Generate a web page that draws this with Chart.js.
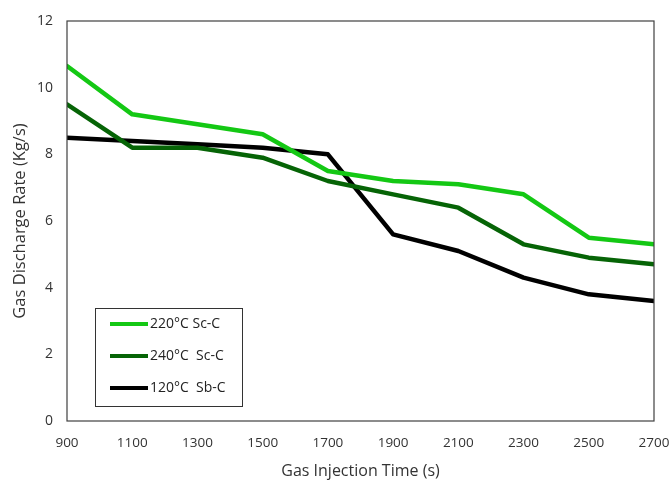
<!DOCTYPE html>
<html>
<head>
<meta charset="utf-8">
<script src="https://cdn.jsdelivr.net/npm/chart.js@4"></script>
<style>
  html, body { margin: 0; padding: 0; background: #fff; }
  #wrap { width: 672px; height: 481px; }
</style>
</head>
<body>
<div id="wrap"><canvas id="lineChart"></canvas></div>
<script>
// injection time (s)
const times = [900, 1100, 1300, 1500, 1700, 1900, 2100, 2300, 2500, 2700];
// gas discharge rate (Kg/s)
const sc220 = [10.65, 9.2, 8.9, 8.6, 7.5, 7.2, 7.1, 6.8, 5.5, 5.3];
const sc240 = [9.5, 8.2, 8.2, 7.9, 7.2, 6.8, 6.4, 5.3, 4.9, 4.7];
const sb120 = [8.5, 8.4, 8.3, 8.2, 8.0, 5.6, 5.1, 4.3, 3.8, 3.6];
const seriesNames = ["220°C Sc-C", "240°C  Sc-C", "120°C  Sb-C"];

const toPoints = (vals) => vals.map((v, i) => ({ x: times[i], y: v }));

// frame round the plot + legend box in the lower left
const framePlugin = {
  id: "frame",
  afterDraw(chart) {
    const ctx = chart.ctx;
    const a = chart.chartArea;
    ctx.save();
    ctx.strokeStyle = "#404040";
    ctx.lineWidth = 1.2;
    ctx.strokeRect(a.left, a.top, a.right - a.left, a.bottom - a.top);

    // legend
    const bx = 95, by = 308, bw = 147, bh = 98;
    ctx.lineWidth = 1;
    ctx.strokeStyle = "#333";
    ctx.fillStyle = "#fff";
    ctx.fillRect(bx, by, bw, bh);
    ctx.strokeRect(bx + 0.5, by + 0.5, bw, bh);
    ctx.font = "14px 'Open Sans', sans-serif";
    ctx.textBaseline = "middle";
    chart.data.datasets.forEach((ds, i) => {
      const y = by + 16 + i * 32;
      ctx.strokeStyle = ds.borderColor;
      ctx.lineWidth = 4;
      ctx.beginPath();
      ctx.moveTo(110, y);
      ctx.lineTo(148, y);
      ctx.stroke();
      ctx.fillStyle = "#222";
      ctx.fillText(ds.label, 150, y);
    });
    ctx.restore();
  },
};

const lineConfig = {
  type: "line",
  data: {
    datasets: [
      { label: seriesNames[0], data: toPoints(sc220), borderColor: "#14c814" },
      { label: seriesNames[1], data: toPoints(sc240), borderColor: "#066406" },
      { label: seriesNames[2], data: toPoints(sb120), borderColor: "#000000" },
    ],
  },
  options: {
    responsive: true,
    maintainAspectRatio: false,
    animation: false,
    layout: { padding: { left: 0, right: 18, top: 21, bottom: 0 } },
    elements: {
      line: { borderWidth: 4.5, tension: 0, borderJoinStyle: "round", borderCapStyle: "round" },
      point: { radius: 0 },
    },
    plugins: {
      legend: { display: false },
      tooltip: { enabled: false },
    },
    scales: {
      x: {
        type: "linear",
        min: 900,
        max: 2700,
        grid: { display: false, drawTicks: false },
        border: { display: false },
        ticks: {
          stepSize: 200,
          padding: 14,
          color: "#333",
          font: { family: "'Open Sans', sans-serif", size: 13.5 },
          callback: (v) => String(v),
        },
        title: {
          display: true,
          text: "Gas Injection Time (s)",
          color: "#333",
          padding: { top: 0, bottom: 0 },
          font: { family: "'Open Sans', sans-serif", size: 16 },
        },
        afterFit: (s) => {
          s.height = 60;
          s.paddingLeft = 0;
          s.paddingRight = 0;
        },
      },
      y: {
        min: 0,
        max: 12,
        grid: { display: false, drawTicks: false },
        border: { display: false },
        ticks: {
          stepSize: 2,
          padding: 14,
          color: "#333",
          font: { family: "'Open Sans', sans-serif", size: 14 },
        },
        title: {
          display: true,
          text: "Gas Discharge Rate (Kg/s)",
          color: "#333",
          padding: { top: 10, bottom: 0 },
          font: { family: "'Open Sans', sans-serif", size: 16.5 },
        },
        afterFit: (s) => {
          s.width = 67;
          s.paddingTop = 0;
          s.paddingBottom = 0;
        },
      },
    },
  },
  plugins: [framePlugin],
};

const lineChart = new Chart(document.getElementById("lineChart"), lineConfig);
</script>
</body>
</html>
